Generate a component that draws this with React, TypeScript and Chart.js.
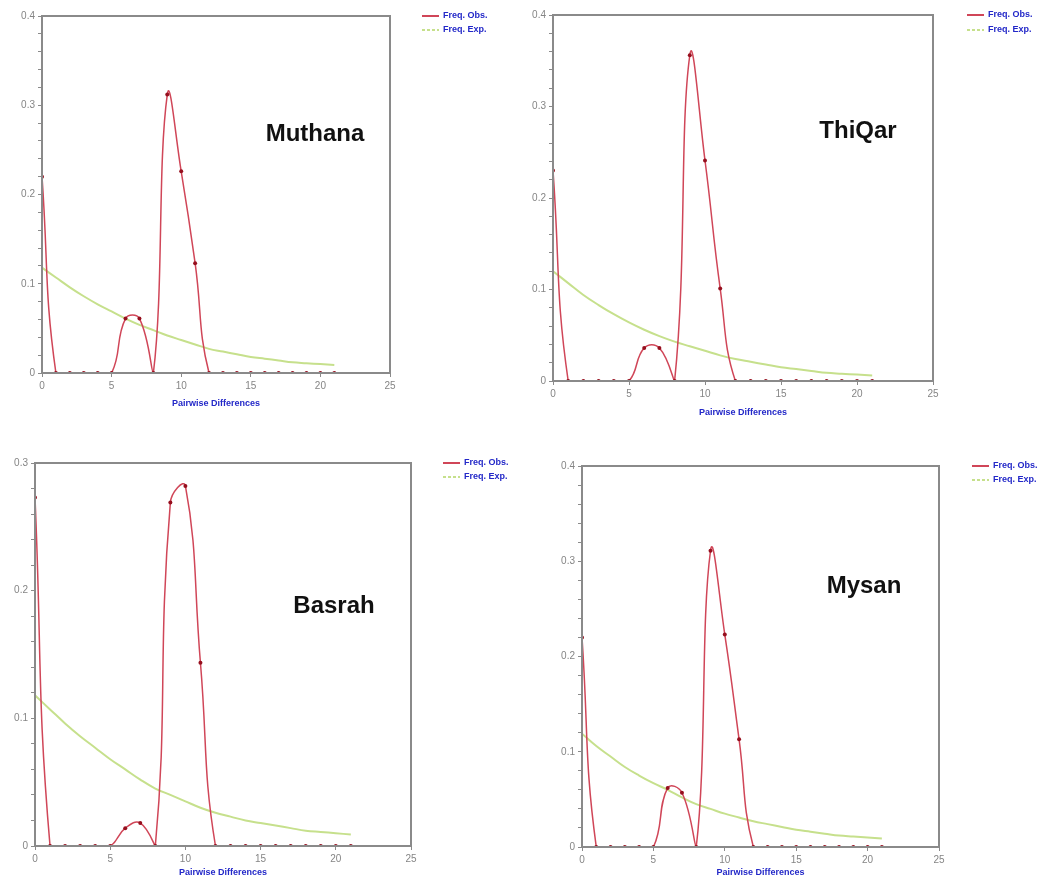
import React, { useEffect, useRef } from "react";
import { Chart, registerables } from "chart.js";

Chart.register(...registerables);

// ---------------- DATA ----------------
const pairwiseDiffs = [0, 1, 2, 3, 4, 5, 6, 7, 8, 9, 10, 11, 12, 13, 14, 15, 16, 17, 18, 19, 20, 21];
const xTickValues = [0, 5, 10, 15, 20, 25];
const legendLabels = ["Freq. Obs.", "Freq. Exp."];
const xAxisTitle = "Pairwise Differences";
const panelNames = ["Muthana", "ThiQar", "Basrah", "Mysan"];
const panelYMax = [0.4, 0.4, 0.3, 0.4];

const muthanaObs = [0.22, 0, 0, 0, 0, 0, 0.061, 0.061, 0, 0.312, 0.226, 0.123, 0, 0, 0, 0, 0, 0, 0, 0, 0, 0];
const muthanaExp = [0.118, 0.107, 0.096, 0.086, 0.077, 0.069, 0.061, 0.054, 0.048, 0.042, 0.037, 0.032, 0.027, 0.024, 0.021, 0.018, 0.016, 0.014, 0.012, 0.011, 0.01, 0.009];

const thiqarObs = [0.23, 0, 0, 0, 0, 0, 0.036, 0.036, 0, 0.356, 0.241, 0.101, 0, 0, 0, 0, 0, 0, 0, 0, 0, 0];
const thiqarExp = [0.12, 0.107, 0.094, 0.083, 0.073, 0.064, 0.056, 0.049, 0.043, 0.038, 0.033, 0.028, 0.024, 0.021, 0.018, 0.015, 0.013, 0.011, 0.009, 0.008, 0.007, 0.006];

const basrahObs = [0.273, 0, 0, 0, 0, 0, 0.014, 0.018, 0, 0.269, 0.282, 0.1435, 0, 0, 0, 0, 0, 0, 0, 0, 0, 0];
const basrahExp = [0.118, 0.107, 0.096, 0.086, 0.077, 0.068, 0.06, 0.052, 0.045, 0.04, 0.035, 0.03, 0.026, 0.023, 0.02, 0.018, 0.016, 0.014, 0.012, 0.011, 0.01, 0.009];

const mysanObs = [0.22, 0, 0, 0, 0, 0, 0.062, 0.057, 0, 0.311, 0.223, 0.113, 0, 0, 0, 0, 0, 0, 0, 0, 0, 0];
const mysanExp = [0.119, 0.106, 0.095, 0.084, 0.075, 0.067, 0.06, 0.052, 0.045, 0.04, 0.035, 0.031, 0.027, 0.024, 0.021, 0.018, 0.016, 0.014, 0.012, 0.011, 0.01, 0.009];

const obsSeries = [muthanaObs, thiqarObs, basrahObs, mysanObs];
const expSeries = [muthanaExp, thiqarExp, basrahExp, mysanExp];

// ---------------- LAYOUT (page pixels) ----------------
type Layout = {
  L: number; R: number; T: number; B: number;
  titleX: number; titleY: number;
  legX: number; legY1: number; legY2: number;
  axisTitleGap: number;
};

const layouts: Layout[] = [
  { L: 42, R: 390, T: 16, B: 373, titleX: 315, titleY: 134, legX: 422, legY1: 16, legY2: 30, axisTitleGap: 31 },
  { L: 553, R: 933, T: 15, B: 381, titleX: 858, titleY: 131, legX: 967, legY1: 15, legY2: 30, axisTitleGap: 32 },
  { L: 35, R: 411, T: 463, B: 846, titleX: 334, titleY: 606, legX: 443, legY1: 463, legY2: 477, axisTitleGap: 27 },
  { L: 582, R: 939, T: 466, B: 847, titleX: 864, titleY: 586, legX: 972, legY1: 466, legY2: 480, axisTitleGap: 26 },
];

const Y_W = 42;
const TOP_PAD = 14;
const X_H = 45;
const RIGHT_PAD = 125;

const OBS_COLOR = "rgb(208, 70, 88)";
const OBS_POINT = "rgb(150, 15, 30)";
const EXP_COLOR = "rgb(198, 224, 140)";
const AXIS_GRAY = "#8a8a8a";
const TICK_TEXT = "#858585";
const BLUE_TEXT = "rgb(35, 40, 200)";
const FONT = 'Arial, "Liberation Sans", sans-serif';

function PanelChart({ idx }: { idx: number }) {
  const ref = useRef<HTMLCanvasElement | null>(null);
  const lay = layouts[idx];
  const cLeft = lay.L - Y_W;
  const cTop = lay.T - TOP_PAD;
  const cW = lay.R - lay.L + Y_W + RIGHT_PAD;
  const cH = lay.B - lay.T + TOP_PAD + X_H;

  useEffect(() => {
    if (!ref.current) return;
    const obs = obsSeries[idx];
    const exp = expSeries[idx];
    const yMax = panelYMax[idx];
    const titleLH = 9 * 1.2;

    const decor = {
      id: "decor" + idx,
      afterDraw(chart: any) {
        const ctx = chart.ctx as CanvasRenderingContext2D;
        const a = chart.chartArea;
        ctx.save();
        // frame
        ctx.strokeStyle = AXIS_GRAY;
        ctx.lineWidth = 2;
        ctx.strokeRect(a.left, a.top, a.right - a.left, a.bottom - a.top);
        // panel title
        ctx.fillStyle = "#111";
        ctx.font = `bold 24px ${FONT}`;
        ctx.textAlign = "center";
        ctx.textBaseline = "middle";
        ctx.fillText(panelNames[idx], lay.titleX - cLeft, lay.titleY - cTop);
        // legend
        const lx = lay.legX - cLeft;
        const rows = [lay.legY1 - cTop, lay.legY2 - cTop];
        ctx.lineWidth = 2;
        ctx.strokeStyle = OBS_COLOR;
        ctx.setLineDash([]);
        ctx.beginPath();
        ctx.moveTo(lx, rows[0]);
        ctx.lineTo(lx + 17, rows[0]);
        ctx.stroke();
        ctx.strokeStyle = EXP_COLOR;
        ctx.setLineDash([3, 2]);
        ctx.beginPath();
        ctx.moveTo(lx, rows[1]);
        ctx.lineTo(lx + 17, rows[1]);
        ctx.stroke();
        ctx.setLineDash([]);
        ctx.fillStyle = BLUE_TEXT;
        ctx.font = `bold 9px ${FONT}`;
        ctx.textAlign = "left";
        ctx.fillText(legendLabels[0], lx + 21, rows[0]);
        ctx.fillText(legendLabels[1], lx + 21, rows[1]);
        ctx.restore();
      },
    };

    const chart = new Chart(ref.current, {
      type: "line",
      data: {
        datasets: [
          {
            label: legendLabels[0],
            data: pairwiseDiffs.map((d, i) => ({ x: d, y: obs[i] })),
            borderColor: OBS_COLOR,
            backgroundColor: "transparent",
            borderWidth: 1.5,
            pointRadius: 2,
            pointBackgroundColor: OBS_POINT,
            pointBorderColor: OBS_POINT,
            pointBorderWidth: 0,
            tension: 0.45,
            fill: false,
          },
          {
            label: legendLabels[1],
            data: pairwiseDiffs.map((d, i) => ({ x: d, y: exp[i] })),
            borderColor: EXP_COLOR,
            backgroundColor: "transparent",
            borderWidth: 2,
            pointRadius: 0,
            tension: 0.4,
            fill: false,
          },
        ],
      },
      options: {
        animation: false,
        responsive: false,
        devicePixelRatio: 1,
        events: [],
        layout: { padding: { left: 0, top: TOP_PAD, right: RIGHT_PAD, bottom: 0 } },
        plugins: {
          legend: { display: false },
          tooltip: { enabled: false },
          title: { display: false },
        },
        scales: {
          x: {
            type: "linear",
            min: 0,
            max: 25,
            afterFit: (s: any) => { s.height = X_H; },
            afterBuildTicks: (s: any) => { s.ticks = xTickValues.map((v) => ({ value: v })); },
            ticks: {
              color: TICK_TEXT,
              font: { size: 10, family: FONT },
              padding: 3,
              maxRotation: 0,
              autoSkip: false,
              callback: (v: any) => String(v),
            },
            grid: { display: true, drawOnChartArea: false, drawTicks: true, tickLength: 4, color: AXIS_GRAY, lineWidth: 1 },
            border: { display: true, color: AXIS_GRAY, width: 2 },
            title: {
              display: true,
              text: xAxisTitle,
              color: BLUE_TEXT,
              font: { size: 9, weight: "bold", family: FONT, lineHeight: 1.2 },
              padding: { top: 0, bottom: X_H - lay.axisTitleGap - titleLH / 2 },
            },
          },
          y: {
            type: "linear",
            min: 0,
            max: yMax,
            afterFit: (s: any) => { s.width = Y_W; },
            ticks: {
              stepSize: 0.02,
              autoSkip: false,
              color: TICK_TEXT,
              font: { size: 10, family: FONT },
              padding: 3,
              callback: (v: any) => {
                const t = Number(v) * 10;
                return Math.abs(t - Math.round(t)) < 1e-6 ? String(Math.round(t) / 10) : "";
              },
            },
            grid: { display: true, drawOnChartArea: false, drawTicks: true, tickLength: 4, color: AXIS_GRAY, lineWidth: 1 },
            border: { display: true, color: AXIS_GRAY, width: 2 },
          },
        },
      },
      plugins: [decor],
    } as any);
    return () => chart.destroy();
  }, [idx]);

  return (
    <canvas
      ref={ref}
      width={cW}
      height={cH}
      style={{ position: "absolute", left: cLeft, top: cTop, width: cW, height: cH }}
    />
  );
}

export default function App() {
  return (
    <div style={{ position: "absolute", left: 0, top: 0, width: 1056, height: 884, background: "#fff", overflow: "hidden" }}>
      {[0, 1, 2, 3].map((i) => (
        <PanelChart key={i} idx={i} />
      ))}
    </div>
  );
}
